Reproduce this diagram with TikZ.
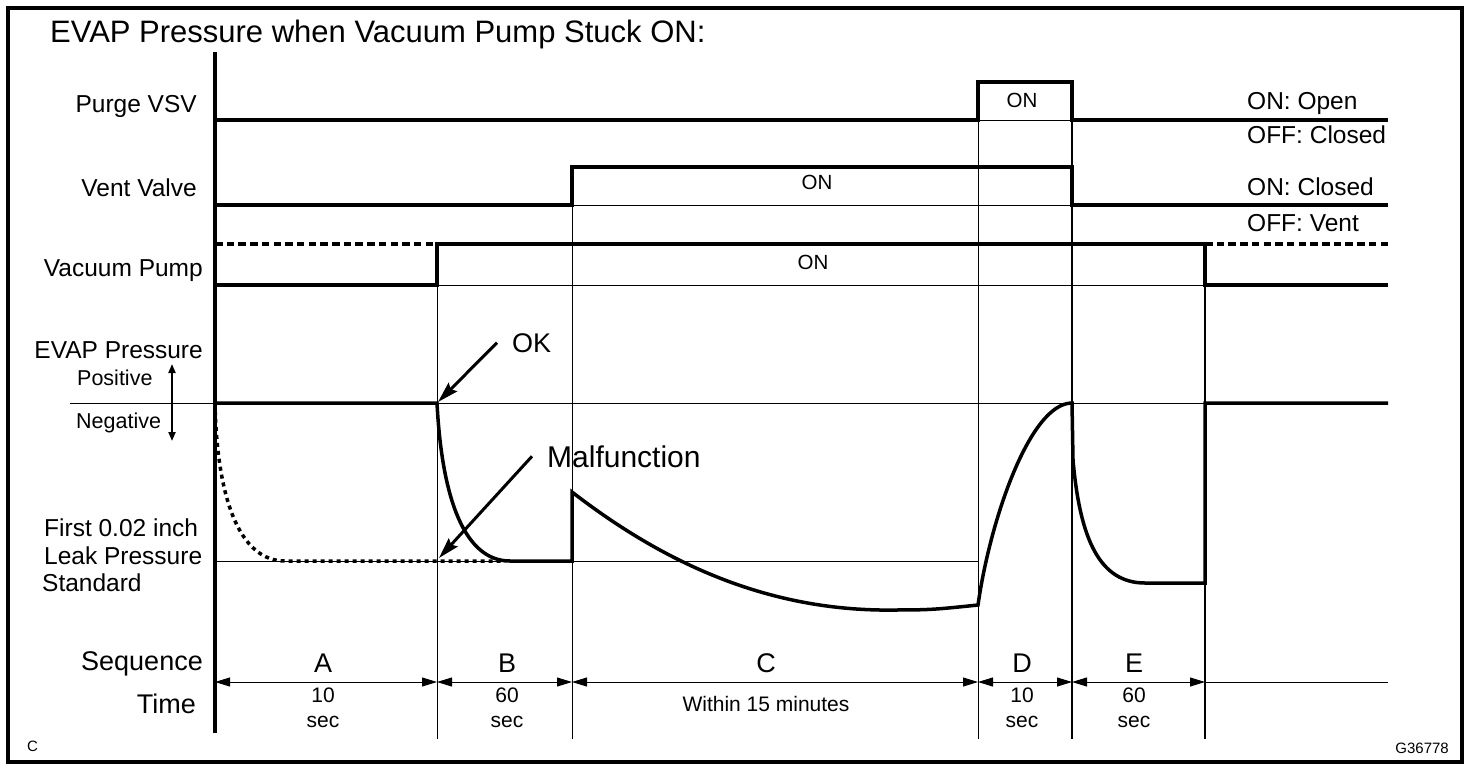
\documentclass[tikz,border=0pt]{standalone}
\usepackage{fontspec}
\setmainfont{Liberation Sans}
\usetikzlibrary{arrows.meta}

\begin{document}
\begin{tikzpicture}[x=1pt,y=-1pt]

\tikzset{
    trace/.style={line width=3.5pt},
    thin line/.style={line width=1pt},
    mid line/.style={line width=1.8pt},
    dashes/.style={line width=3.5pt, dash pattern=on 7.5pt off 4.2pt},
    dots/.style={line width=3.5pt, dash pattern=on 4pt off 4pt},
    dim/.style={thin line, {Triangle[length=15pt,width=9pt]}-{Triangle[length=15pt,width=9pt]}},
    pointer/.style={line width=3pt, -{Stealth[length=21pt,width=12pt,inset=3pt]}},
    updown/.style={line width=2pt, {Triangle[length=9pt,width=7pt]}-{Triangle[length=9pt,width=7pt]}},
    every node/.style={inner sep=0pt},
    hdr/.style={font=\fontsize{31}{35}\selectfont},
    lbl/.style={font=\fontsize{24.5}{29}\selectfont},
    seq/.style={font=\fontsize{27}{31}\selectfont},
    mini/.style={font=\fontsize{21.5}{25}\selectfont},
    sml/.style={font=\fontsize{21}{24.5}\selectfont},
    tiny/.style={font=\fontsize{15}{18}\selectfont}
}

\useasboundingbox (0,0) rectangle (1472,772);
\draw[trace] (8,8) rectangle (1462,762);

% title and row labels
\node[hdr, anchor=base west] (title) at (50,42) {EVAP Pressure when Vacuum Pump Stuck ON:};
\node[lbl, anchor=base east] (purge) at (197,112) {Purge VSV};
\node[lbl, anchor=base east] (vent) at (197,196) {Vent Valve};
\node[lbl, anchor=base east] (pump) at (203,276) {Vacuum Pump};
\node[lbl, anchor=base east] (evap) at (203,358) {EVAP Pressure};
\node[mini, anchor=base west] (positive) at (77,385) {Positive};
\node[mini, anchor=base west] (negative) at (76,428) {Negative};
\node[lbl, anchor=base west] (first) at (44,536) {First 0.02 inch};
\node[lbl, anchor=base west] (leak) at (44,564) {Leak Pressure};
\node[lbl, anchor=base west] (standard) at (42,591) {Standard};
\node[seq, anchor=base east] (sequence) at (203,670) {Sequence};
\node[seq, anchor=base east] (time) at (196,713) {Time};
\node[tiny, anchor=base west] (corner) at (27,751) {C};
\node[tiny, anchor=base east] (code) at (1449,753) {G36778};

% state meanings
\node[lbl, anchor=base west] (purgeon) at (1247,109) {ON: Open};
\node[lbl, anchor=base west] (purgeoff) at (1247,143) {OFF: Closed};
\node[lbl, anchor=base west] (venton) at (1247,195) {ON: Closed};
\node[lbl, anchor=base west] (ventoff) at (1247,231) {OFF: Vent};

% main axis and grid
\draw[trace] (215,52) -- (215,733);
\draw[thin line] (70,403) -- (1205,403);
\draw[thin line] (215,561) -- (978,561);
\draw[thin line] (215,120) -- (1388,120);
\draw[thin line] (215,205) -- (1388,205);
\draw[thin line] (215,285) -- (1388,285);
\draw[thin line] (437,285) -- (437,739);
\draw[thin line] (572,205) -- (572,739);
\draw[thin line] (978,120) -- (978,739);
\draw[mid line] (1072,82) -- (1072,739);
\draw[mid line] (1205,285) -- (1205,739);

% switching traces
\draw[trace] (215,120) -- (978,120) -- (978,82) -- (1072,82) -- (1072,120) -- (1388,120);
\draw[trace] (215,205) -- (572,205) -- (572,167) -- (1072,167) -- (1072,205) -- (1388,205);
\draw[trace] (215,285) -- (437,285) -- (437,244) -- (1205,244) -- (1205,285) -- (1388,285);
\draw[dashes] (215,244) -- (437,244);
\draw[dashes] (1205,244) -- (1388,244);
\node[font=\fontsize{20.5}{24}\selectfont, anchor=base] (purgeonlbl) at (1022,107) {ON};
\node[font=\fontsize{20.5}{24}\selectfont, anchor=base] (ventonlbl) at (817,189) {ON};
\node[font=\fontsize{20.5}{24}\selectfont, anchor=base] (pumponlbl) at (813,269) {ON};

% pressure
\draw[trace] (215,403) -- (437,403) .. controls (442,500) and (465,561) .. (510,561) -- (572,561) -- (572,492)
    .. controls (660,560) and (760,608) .. (880,610) .. controls (930,610) .. (978,605)
    .. controls (990,520) and (1030,403) .. (1072,403) -- (1073,460)
    .. controls (1080,540) and (1100,583) .. (1145,583) -- (1205,583) -- (1205,403) -- (1388,403);
\draw[dots] (215,403) .. controls (217,500) and (240,561) .. (285,561) -- (505,561);
\coordinate (up) at (172,364);
\coordinate (down) at (172,441);
\draw[updown] (up) -- (down);

\node[font=\fontsize{27}{31}\selectfont, anchor=base west] (ok) at (512,352) {OK};
\node[font=\fontsize{30}{34}\selectfont, anchor=base west] (mal) at (547,467) {Malfunction};
\coordinate (okpt) at (438,402);
\coordinate (malpt) at (439,558);
\draw[pointer] ([xshift=-15pt]ok.west) -- (okpt);
\draw[pointer] ([xshift=-15pt]mal.west) -- (malpt);

% sequence and time
\foreach \a/\b/\m/\s/\t/\ty in {215/437/323/A/{10\\sec}/688, 437/572/507/B/{60\\sec}/688,
    572/978/766/C/{Within 15 minutes}/696, 978/1072/1022/D/{10\\sec}/688, 1072/1205/1134/E/{60\\sec}/688}{
    \draw[dim] (\a,682) -- (\b,682);
    \node[seq, anchor=base] (seq\s) at (\m,672) {\s};
    \node[sml, align=center, anchor=north] (time\s) at (\m,\ty) {\t};
}
\draw[thin line] (1205,682) -- (1388,682);

\end{tikzpicture}
\end{document}
